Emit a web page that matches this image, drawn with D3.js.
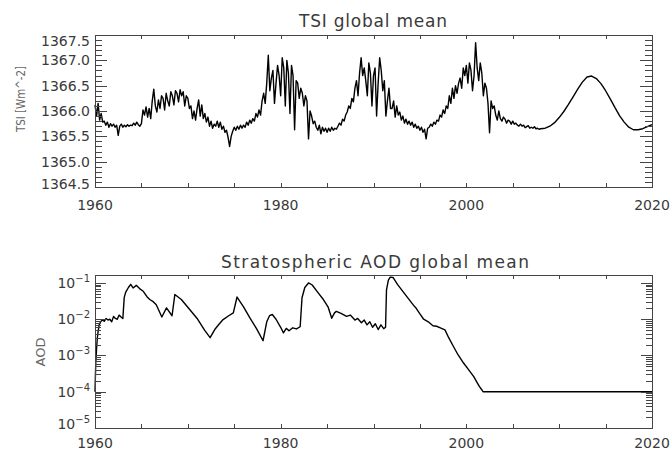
<!DOCTYPE html>
<html><head><meta charset="utf-8">
<script src="https://cdn.jsdelivr.net/npm/d3@7"></script>
<style>body{margin:0;background:#fff} text{font-family:"DejaVu Sans",sans-serif}</style>
</head><body><svg id="c" width="671" height="452"></svg>
<script>
// ---------------- DATA ----------------
// TSI (W m^-2), six samples per year, 1960 .. 2007
const tsiStartYear = 1960;
const tsiSamplesPerYear = 6;
const tsiNoisy = [
 [1366.12,1365.90,1366.15,1365.82,1365.95,1365.78], //1960
 [1365.80,1365.72,1365.78,1365.68,1365.75,1365.70],
 [1365.74,1365.68,1365.72,1365.52,1365.70,1365.74],
 [1365.68,1365.72,1365.69,1365.73,1365.70,1365.72],
 [1365.71,1365.76,1365.72,1365.78,1365.73,1365.70],
 [1365.75,1366.02,1365.92,1366.08,1365.88,1366.05], //1965
 [1365.85,1366.20,1366.43,1366.10,1365.98,1366.22],
 [1366.05,1366.30,1366.25,1366.02,1366.35,1366.20],
 [1366.10,1366.38,1366.30,1366.12,1366.40,1366.35],
 [1366.18,1366.42,1366.30,1366.38,1366.10,1366.30],
 [1366.25,1366.05,1366.10,1365.85,1366.00,1365.82], //1970
 [1366.05,1366.22,1365.90,1366.12,1365.85,1365.95],
 [1365.78,1365.88,1365.70,1365.80,1365.66,1365.74],
 [1365.70,1365.80,1365.68,1365.78,1365.64,1365.70],
 [1365.58,1365.62,1365.48,1365.30,1365.50,1365.60],
 [1365.68,1365.62,1365.70,1365.64,1365.72,1365.66], //1975
 [1365.72,1365.68,1365.78,1365.72,1365.82,1365.76],
 [1365.85,1365.80,1365.95,1365.88,1366.02,1365.92],
 [1366.20,1366.35,1366.15,1366.55,1367.10,1366.40],
 [1366.65,1366.80,1366.15,1366.55,1366.90,1366.70],
 [1366.30,1367.05,1366.85,1366.10,1367.00,1366.75], //1980
 [1365.95,1366.90,1366.70,1365.63,1366.60,1366.55],
 [1366.25,1366.45,1366.35,1366.10,1366.30,1366.20],
 [1365.45,1366.00,1365.90,1365.75,1365.80,1365.68],
 [1365.62,1365.72,1365.55,1365.68,1365.60,1365.66],
 [1365.58,1365.66,1365.60,1365.68,1365.62,1365.66], //1985
 [1365.64,1365.70,1365.76,1365.72,1365.84,1365.80],
 [1365.92,1365.98,1366.10,1366.05,1366.25,1366.18],
 [1366.45,1366.60,1366.30,1366.75,1367.05,1366.70],
 [1366.85,1366.60,1366.30,1366.95,1366.75,1366.10],
 [1366.70,1366.85,1365.90,1366.55,1367.05,1366.80], //1990
 [1366.40,1366.60,1365.90,1366.20,1366.45,1366.05],
 [1366.05,1366.20,1365.88,1366.10,1365.92,1365.98],
 [1365.82,1365.90,1365.76,1365.84,1365.74,1365.80],
 [1365.72,1365.78,1365.68,1365.74,1365.66,1365.70],
 [1365.62,1365.68,1365.58,1365.64,1365.45,1365.66], //1995
 [1365.68,1365.74,1365.70,1365.78,1365.74,1365.82],
 [1365.80,1365.92,1365.88,1366.02,1365.95,1366.10],
 [1366.05,1366.30,1366.15,1366.45,1366.25,1366.50],
 [1366.35,1366.55,1366.65,1366.45,1366.85,1366.70],
 [1366.90,1366.55,1366.95,1366.80,1366.40,1366.70], //2000
 [1367.35,1366.85,1366.60,1366.95,1366.75,1366.30],
 [1366.55,1366.45,1366.15,1365.57,1366.20,1366.05],
 [1366.10,1365.92,1365.82,1366.00,1365.85,1365.80],
 [1365.88,1365.84,1365.76,1365.82,1365.80,1365.74],
 [1365.80,1365.74,1365.76,1365.72,1365.70,1365.74], //2005
 [1365.70,1365.72,1365.67,1365.69,1365.71,1365.66],
 [1365.68,1365.66,1365.69,1365.65,1365.66,1365.64]
];
// TSI projected cycle 2008 .. 2020
const tsiSmoothYears = [2008.0,2008.5,2009.0,2009.5,2010.0,2010.5,2011.0,2011.5,2012.0,2012.5,2013.0,2013.5,2014.0,2014.5,2015.0,2015.5,2016.0,2016.5,2017.0,2017.5,2018.0,2018.5,2019.0,2019.5,2020.0];
const tsiSmoothValues = [1365.65,1365.66,1365.70,1365.77,1365.87,1365.99,1366.13,1366.28,1366.43,1366.57,1366.67,1366.69,1366.64,1366.54,1366.40,1366.24,1366.07,1365.91,1365.78,1365.68,1365.63,1365.63,1365.65,1365.69,1365.73];

// Stratospheric AOD
const aodYears = [1960.00,1960.04,1960.08,1960.17,1960.25,1960.33,1960.45,1960.6,1960.8,1961.0,1961.2,1961.4,1961.6,1961.8,1962.0,1962.2,1962.4,1962.6,1962.8,1963.0,1963.15,1963.3,1963.6,1963.85,1964.1,1964.45,1964.8,1965.2,1965.6,1965.9,1966.3,1966.6,1967.2,1967.7,1968.3,1968.6,1969.3,1970.2,1971.0,1971.8,1972.4,1972.9,1973.4,1973.8,1974.4,1974.9,1975.3,1976.0,1976.7,1977.4,1978.1,1978.5,1978.8,1979.1,1979.5,1980.0,1980.3,1980.6,1980.9,1981.3,1981.7,1982.1,1982.3,1982.6,1983.0,1983.4,1984.0,1984.6,1985.1,1985.5,1985.8,1986.0,1986.5,1987.1,1987.5,1988.0,1988.3,1988.7,1989.0,1989.3,1989.6,1989.9,1990.2,1990.5,1990.8,1991.1,1991.3,1991.4,1991.6,1991.8,1992.1,1992.6,1993.2,1993.8,1994.3,1994.6,1995.0,1995.4,1995.9,1996.4,1996.8,1997.2,1997.7,1998.1,1998.6,1999.1,1999.7,2000.4,2000.8,2001.1,2001.4,2001.7,2001.8,2020.0];
const aodValues = [1.0e-4,2.5e-4,6e-4,1.6e-3,3.0e-3,4.5e-3,7.0e-3,8.5e-3,9.5e-3,8.8e-3,1.05e-2,9.5e-3,1.0e-2,8.5e-3,1.2e-2,1.05e-2,1.0e-2,1.3e-2,1.15e-2,1.05e-2,4.0e-2,5.5e-2,7.5e-2,9.2e-2,7.3e-2,8.6e-2,7.0e-2,5.9e-2,4.2e-2,3.5e-2,3.0e-2,2.5e-2,1.15e-2,2.05e-2,1.25e-2,4.8e-2,3.5e-2,1.85e-2,1.05e-2,5.0e-3,3.1e-3,5.2e-3,7.5e-3,9.8e-3,1.25e-2,1.5e-2,4.1e-2,2.2e-2,1.07e-2,5.5e-3,2.55e-3,8.5e-3,1.25e-2,1.35e-2,1.0e-2,6.0e-3,4.2e-3,5.6e-3,4.8e-3,5.8e-3,5.4e-3,6.2e-3,3.9e-2,7.5e-2,1.0e-1,8.8e-2,5.5e-2,3.5e-2,2.2e-2,1.07e-2,1.5e-2,1.65e-2,1.45e-2,1.2e-2,1.3e-2,9.5e-3,1.05e-2,8.0e-3,9.5e-3,7.0e-3,8.5e-3,6.0e-3,7.5e-3,5.2e-3,7.0e-3,5.5e-3,6.0e-3,6.5e-2,1.2e-1,1.45e-1,1.42e-1,9.0e-2,5.7e-2,3.6e-2,2.45e-2,2.0e-2,1.4e-2,1.0e-2,8.5e-3,6.6e-3,6.4e-3,5.8e-3,5.1e-3,3.1e-3,1.8e-3,1.05e-3,6.2e-4,3.6e-4,2.6e-4,1.9e-4,1.4e-4,1.1e-4,1.0e-4,1.0e-4];

const xDomain = [1960, 2020];
const xLabelYears = [1960, 1980, 2000, 2020];
const tsiDomain = [1364.5, 1367.5];
const aodDomain = [1e-5, 0.166];
const aodMajor = [1e-5, 1e-4, 1e-3, 1e-2, 1e-1];
const aodExp = [-5, -4, -3, -2, -1];

// ---------------- LAYOUT ----------------
const L = 95, R = 652;
const t1 = 35, b1 = 187, t2 = 275, b2 = 428;
const frameCol = "#444", textCol = "#3a3a3a";
const svg = d3.select("#c");

const x = d3.scaleLinear().domain(xDomain).range([L, R]);
const y1 = d3.scaleLinear().domain(tsiDomain).range([b1, t1]);
const y2 = d3.scaleLog().domain(aodDomain).range([b2, t2]);

function xTicks(top, bot, labelOff) {
  const g = svg.append("g").attr("stroke", frameCol).attr("stroke-width", 1);
  d3.range(1960, 2021, 5).forEach(v => {
    const px = Math.round(x(v)) + 0.5;
    g.append("line").attr("x1", px).attr("x2", px).attr("y1", bot).attr("y2", bot - 4);
    g.append("line").attr("x1", px).attr("x2", px).attr("y1", top).attr("y2", top + 4);
  });
  xLabelYears.forEach(v => {
    svg.append("text").attr("x", x(v)).attr("y", bot + labelOff).attr("text-anchor", "middle")
      .attr("font-size", 14).attr("fill", textCol).text(v);
  });
}
function yTicks(scale, vals, len) {
  const g = svg.append("g").attr("stroke", frameCol).attr("stroke-width", 1);
  vals.forEach(v => {
    const py = Math.round(scale(v)) + 0.5;
    g.append("line").attr("x1", L).attr("x2", L + len).attr("y1", py).attr("y2", py);
    g.append("line").attr("x1", R).attr("x2", R - len).attr("y1", py).attr("y2", py);
  });
}
function frame(top, bot) {
  svg.append("rect").attr("x", L + 0.5).attr("y", top + 0.5).attr("width", R - L).attr("height", bot - top)
    .attr("fill", "none").attr("stroke", frameCol).attr("stroke-width", 1);
}

// ---------------- TOP PANEL ----------------
const tsiPts = [];
tsiNoisy.forEach((row, i) => row.forEach((v, j) => tsiPts.push([tsiStartYear + i + j / tsiSamplesPerYear, v])));
tsiSmoothYears.forEach((yr, i) => tsiPts.push([yr, tsiSmoothValues[i]]));

svg.append("path").datum(tsiPts)
  .attr("fill", "none").attr("stroke", "#000").attr("stroke-width", 1.4).attr("stroke-linejoin", "round")
  .attr("d", d3.line().x(d => x(d[0])).y(d => y1(d[1])));

frame(t1, b1);
xTicks(t1, b1, 23);
const tsiMinor = d3.range(0, 31).map(i => +(1364.5 + i * 0.1).toFixed(1));
const tsiMajor = d3.range(0, 7).map(i => 1364.5 + i * 0.5);
yTicks(y1, tsiMinor, 7);
yTicks(y1, tsiMajor, 12);
tsiMajor.forEach((v, i) => {
  let dy = 5;
  if (i === tsiMajor.length - 1) dy = 11;
  if (i === 0) dy = 1.5;
  svg.append("text").attr("x", L - 5).attr("y", y1(v) + dy).attr("text-anchor", "end")
    .attr("font-size", 14).attr("fill", textCol).text(d3.format(".1f")(v));
});
svg.append("text").attr("transform", "translate(25,99) rotate(-90)").attr("text-anchor", "middle")
  .attr("font-size", 13).attr("fill", "#666").attr("textLength", 66).attr("lengthAdjust", "spacingAndGlyphs")
  .text("TSI [Wm^-2]");
svg.append("text").attr("x", 373).attr("y", 27).attr("text-anchor", "middle").attr("font-size", 17)
  .attr("fill", textCol).attr("textLength", 148).attr("lengthAdjust", "spacing").text("TSI global mean");

// ---------------- BOTTOM PANEL ----------------
svg.append("path").datum(aodYears.map((yr, i) => [yr, aodValues[i]]))
  .attr("fill", "none").attr("stroke", "#000").attr("stroke-width", 1.4).attr("stroke-linejoin", "round")
  .attr("d", d3.line().x(d => x(d[0])).y(d => y2(d[1])));

frame(t2, b2);
xTicks(t2, b2, 20);
const aodMinor = [];
aodMajor.slice(0, 4).forEach(m => d3.range(2, 10).forEach(k => aodMinor.push(m * k)));
yTicks(y2, aodMinor, 6);
yTicks(y2, aodMajor, 11);
aodMajor.forEach((v, i) => {
  const dy = i === 0 ? 1 : 5;
  const t = svg.append("text").attr("x", L - 5).attr("y", y2(v) + dy).attr("text-anchor", "end")
    .attr("font-size", 14).attr("fill", textCol);
  t.append("tspan").text("10");
  t.append("tspan").attr("dy", -6).attr("font-size", 10).text("\u2212" + Math.abs(aodExp[i]));
});
svg.append("text").attr("transform", "translate(45,352) rotate(-90)").attr("text-anchor", "middle")
  .attr("font-size", 13).attr("fill", "#666").text("AOD");
svg.append("text").attr("x", 375).attr("y", 268).attr("text-anchor", "middle").attr("font-size", 17)
  .attr("fill", textCol).attr("textLength", 308).attr("lengthAdjust", "spacing").text("Stratospheric AOD global mean");
</script></body></html>
